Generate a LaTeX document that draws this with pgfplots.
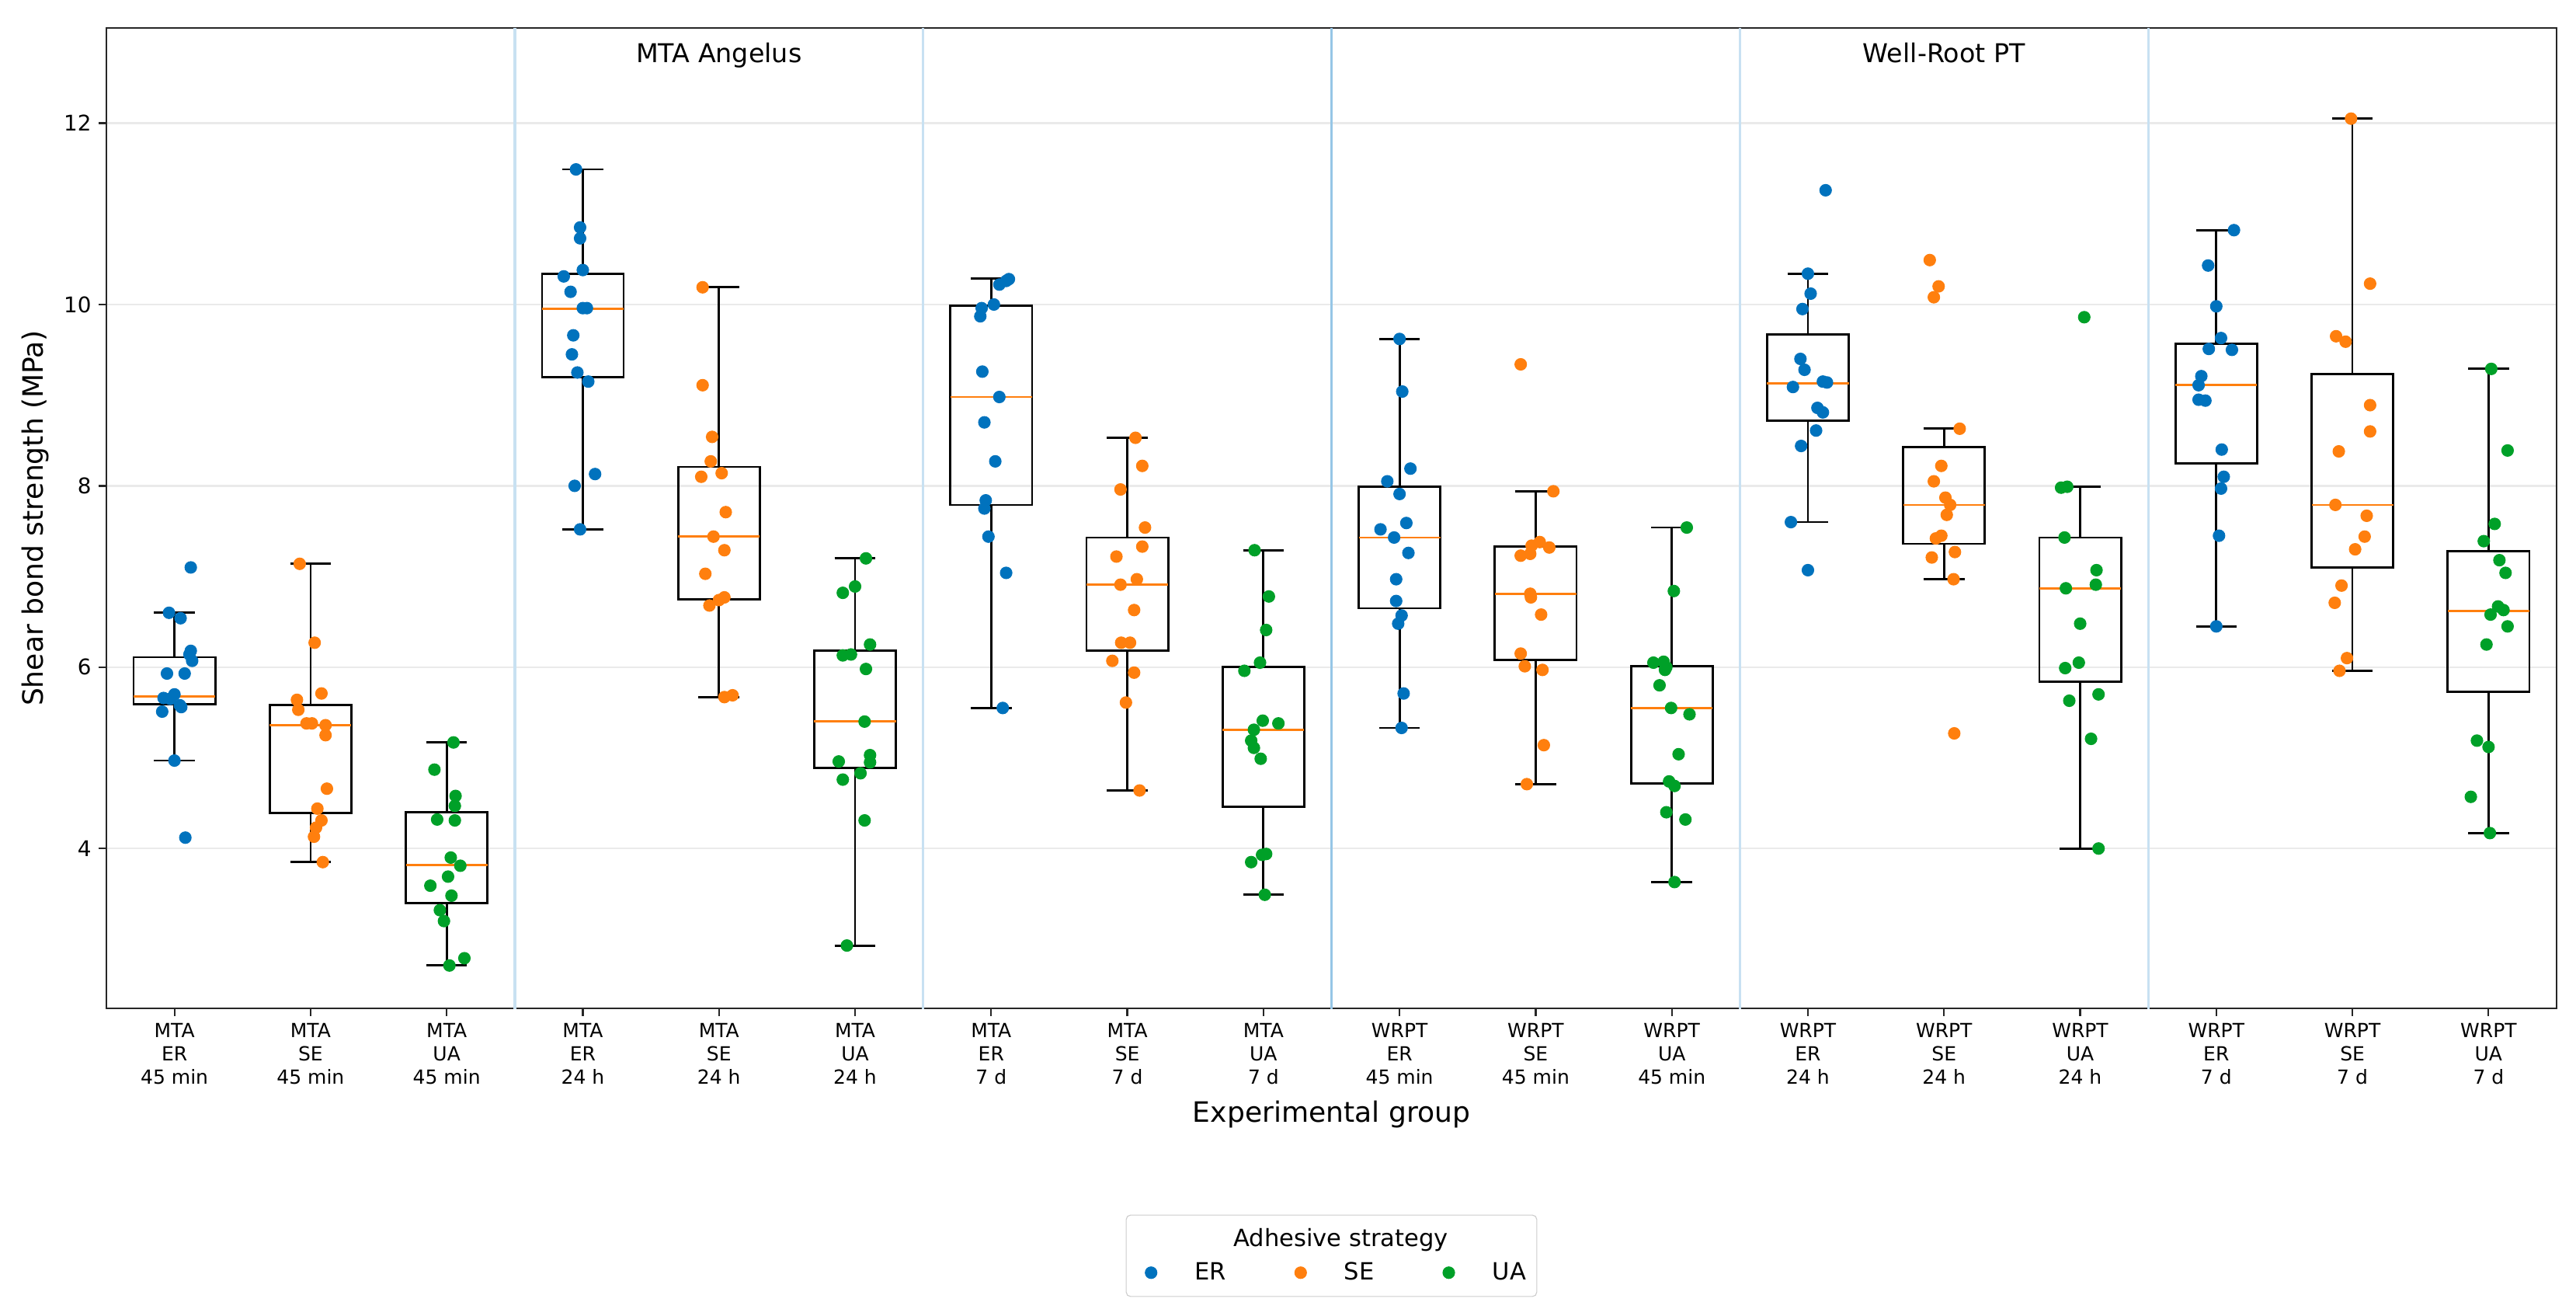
\documentclass[border=0pt]{standalone}
\usepackage{fontspec}
\setmainfont{DejaVu Sans}
\usepackage{pgfplots}
\pgfplotsset{compat=1.18}
\usepgfplotslibrary{statistics}
\definecolor{cER}{RGB}{0,114,189}
\definecolor{cSE}{RGB}{255,127,14}
\definecolor{cUA}{RGB}{0,160,40}
\definecolor{sepc}{RGB}{200,225,242}
\definecolor{sepd}{RGB}{150,198,230}
\definecolor{gridc}{RGB}{234,234,234}
\pgfplotsset{
  bx/.style n args={6}{boxplot prepared={draw position=#1, lower whisker=#2,
      lower quartile=#3, median=#4, upper quartile=#5, upper whisker=#6,
      box extend=0.6, whisker extend=0.3, draw direction=y},
    draw=black, line width=1pt, forget plot},
  pts/.style={only marks, mark=*, mark size=2.7pt, color=#1, mark options={draw=#1, fill=#1}, forget plot},
}
\begin{document}
\begin{tikzpicture}
\useasboundingbox (0,0) rectangle (1194.12pt,606.24pt);
\begin{axis}[
  at={(49.32pt,138.96pt)}, anchor=south west,
  scale only axis, width=1135.8pt, height=454.32pt,
  xmin=-0.5, xmax=17.5, ymin=2.237, ymax=13.05,
  xtick={0,...,17},
  xticklabels={{MTA\\ER\\45 min},{MTA\\SE\\45 min},{MTA\\UA\\45 min},
    {MTA\\ER\\24 h},{MTA\\SE\\24 h},{MTA\\UA\\24 h},
    {MTA\\ER\\7 d},{MTA\\SE\\7 d},{MTA\\UA\\7 d},
    {WRPT\\ER\\45 min},{WRPT\\SE\\45 min},{WRPT\\UA\\45 min},
    {WRPT\\ER\\24 h},{WRPT\\SE\\24 h},{WRPT\\UA\\24 h},
    {WRPT\\ER\\7 d},{WRPT\\SE\\7 d},{WRPT\\UA\\7 d}},
  ytick={4,6,8,10,12},
  ymajorgrids, grid style={gridc, line width=0.8pt},
  tick align=outside, major tick length=3.5pt,
  xtick pos=bottom, ytick pos=left,
  axis line style={line width=0.8pt, black!85},
  tick style={black!85, line width=0.8pt},
  xticklabel style={font=\fontsize{9}{10.8}\selectfont, align=center},
  yticklabel style={font=\fontsize{10}{12}\selectfont},
  /pgf/number format/assume math mode=true,
  xlabel={Experimental group}, ylabel={Shear bond strength (MPa)},
  label style={font=\fontsize{13}{15.6}\selectfont},
  xlabel style={at={(axis description cs:0.5,0)}, anchor=base, yshift=-52.9pt},
  ylabel style={at={(axis description cs:0,0.5)}, anchor=base, yshift=29.2pt},
  boxplot/every median/.style={draw=cSE, line width=1pt},
  legend columns=3,
  legend style={at={(0.5,0)}, anchor=north, yshift=-95.6pt, draw=black!20,
    rounded corners=2pt, font=\fontsize{11}{13.2}\selectfont,
    inner ysep=4.2pt, /tikz/row sep=1.8pt,
    /tikz/every odd column/.append style={column sep=15.5pt},
    /tikz/every even column/.append style={column sep=24pt}},
]
% group separators
\addplot[sepc, line width=1.2pt, forget plot] coordinates {(2.5,2) (2.5,14)};
\addplot[sepc, line width=1.2pt, forget plot] coordinates {(5.5,2) (5.5,14)};
\addplot[sepd, line width=1.2pt, forget plot] coordinates {(8.5,2) (8.5,14)};
\addplot[sepc, line width=1.2pt, forget plot] coordinates {(11.5,2) (11.5,14)};
\addplot[sepc, line width=1.2pt, forget plot] coordinates {(14.5,2) (14.5,14)};
% boxes: position, lower whisker, Q1, median, Q3, upper whisker
\addplot[bx={0}{4.97}{5.59}{5.68}{6.11}{6.60}] coordinates {};
\addplot[bx={1}{3.85}{4.39}{5.36}{5.58}{7.14}] coordinates {};
\addplot[bx={2}{2.71}{3.40}{3.82}{4.40}{5.17}] coordinates {};
\addplot[bx={3}{7.52}{9.20}{9.95}{10.34}{11.49}] coordinates {};
\addplot[bx={4}{5.67}{6.75}{7.44}{8.21}{10.19}] coordinates {};
\addplot[bx={5}{2.93}{4.89}{5.40}{6.18}{7.20}] coordinates {};
\addplot[bx={6}{5.55}{7.79}{8.98}{9.99}{10.29}] coordinates {};
\addplot[bx={7}{4.64}{6.18}{6.91}{7.43}{8.53}] coordinates {};
\addplot[bx={8}{3.49}{4.46}{5.31}{6.00}{7.29}] coordinates {};
\addplot[bx={9}{5.33}{6.65}{7.43}{7.99}{9.62}] coordinates {};
\addplot[bx={10}{4.71}{6.08}{6.81}{7.33}{7.94}] coordinates {};
\addplot[bx={11}{3.63}{4.72}{5.55}{6.01}{7.54}] coordinates {};
\addplot[bx={12}{7.60}{8.72}{9.13}{9.67}{10.34}] coordinates {};
\addplot[bx={13}{6.97}{7.36}{7.79}{8.43}{8.63}] coordinates {};
\addplot[bx={14}{4.00}{5.84}{6.87}{7.43}{7.99}] coordinates {};
\addplot[bx={15}{6.45}{8.25}{9.11}{9.57}{10.82}] coordinates {};
\addplot[bx={16}{5.96}{7.10}{7.79}{9.23}{12.05}] coordinates {};
\addplot[bx={17}{4.17}{5.73}{6.62}{7.28}{9.29}] coordinates {};
% ER points
\addplot[pts=cER] coordinates {
(0.12,7.10) (-0.04,6.60) (0.045,6.54) (0.12,6.18) (0.11,6.14) (0.13,6.07) (-0.055,5.93) (0.075,5.93) (0,5.70) (-0.08,5.66) (-0.03,5.65) (0.04,5.58) (0.05,5.56) (-0.09,5.51) (0,4.97) (0.08,4.12)
(2.95,11.49) (2.98,10.85) (2.98,10.73) (3.00,10.38) (2.86,10.31) (2.91,10.14) (3.00,9.96) (3.03,9.96) (2.93,9.66) (2.92,9.45) (2.96,9.25) (3.04,9.15) (3.09,8.13) (2.94,8.00) (2.98,7.52)
(6.13,10.28) (6.11,10.26) (6.06,10.22) (6.02,10.00) (5.93,9.96) (5.92,9.87) (5.935,9.26) (6.06,8.98) (5.95,8.70) (6.03,8.27) (5.96,7.84) (5.95,7.75) (5.98,7.44) (6.11,7.04) (6.085,5.55)
(9.00,9.62) (9.02,9.04) (9.08,8.19) (8.91,8.05) (9.00,7.91) (8.86,7.52) (9.05,7.59) (8.96,7.43) (9.065,7.26) (8.975,6.97) (8.975,6.73) (9.015,6.57) (8.99,6.48) (9.03,5.71) (9.015,5.33)
(12.13,11.26) (12.00,10.34) (12.02,10.12) (11.96,9.95) (11.945,9.40) (11.975,9.28) (11.89,9.09) (12.11,9.15) (12.14,9.14) (12.07,8.86) (12.11,8.81) (12.06,8.61) (11.95,8.44) (11.875,7.60) (12.00,7.07)
(15.13,10.82) (14.94,10.43) (15.00,9.98) (15.035,9.63) (14.945,9.51) (15.115,9.50) (14.89,9.21) (14.87,9.11) (14.87,8.95) (14.92,8.94) (15.04,8.40) (15.055,8.10) (15.035,7.97) (15.02,7.45) (15.00,6.45)
};
% SE points
\addplot[pts=cSE] coordinates {
(0.92,7.14) (1.03,6.27) (0.90,5.64) (0.91,5.53) (1.08,5.71) (0.97,5.38) (1.01,5.38) (1.11,5.36) (1.11,5.25) (1.12,4.66) (1.05,4.44) (1.08,4.31) (1.04,4.23) (1.025,4.13) (1.09,3.85)
(3.88,10.19) (3.88,9.11) (3.95,8.54) (3.94,8.27) (3.87,8.10) (4.02,8.14) (4.05,7.71) (3.96,7.44) (4.04,7.29) (3.90,7.03) (4.04,6.77) (4.00,6.74) (3.93,6.68) (4.04,5.67) (4.10,5.69)
(7.06,8.53) (7.11,8.22) (6.95,7.96) (7.13,7.54) (7.11,7.33) (6.92,7.22) (6.95,6.91) (7.07,6.97) (7.05,6.63) (6.955,6.27) (7.02,6.27) (6.89,6.07) (7.05,5.94) (6.99,5.61) (7.09,4.64)
(9.89,9.34) (10.13,7.94) (10.03,7.38) (9.97,7.34) (10.10,7.32) (9.89,7.23) (9.96,7.25) (9.96,6.81) (9.965,6.77) (10.04,6.58) (9.89,6.15) (9.92,6.01) (10.05,5.97) (10.06,5.14) (9.935,4.71)
(12.895,10.49) (12.96,10.20) (12.925,10.08) (13.115,8.63) (12.98,8.22) (12.925,8.05) (13.01,7.87) (13.045,7.79) (13.02,7.68) (12.98,7.45) (12.94,7.42) (13.08,7.27) (12.91,7.21) (13.07,6.97) (13.075,5.27)
(15.99,12.05) (16.13,10.23) (15.88,9.65) (15.95,9.59) (16.13,8.89) (16.13,8.60) (15.90,8.38) (15.875,7.79) (16.105,7.67) (16.09,7.44) (16.02,7.30) (15.92,6.90) (15.87,6.71) (15.96,6.10) (15.905,5.96)
};
% UA points
\addplot[pts=cUA] coordinates {
(2.05,5.17) (1.91,4.87) (2.065,4.58) (2.06,4.47) (1.93,4.32) (2.06,4.31) (2.03,3.90) (2.10,3.81) (1.88,3.59) (2.01,3.69) (2.035,3.48) (1.95,3.32) (1.98,3.20) (2.13,2.79) (2.02,2.71)
(5.08,7.20) (4.91,6.82) (5.00,6.89) (5.11,6.25) (4.91,6.13) (4.97,6.14) (5.08,5.98) (5.07,5.40) (4.88,4.96) (5.11,5.03) (5.11,4.95) (5.04,4.83) (4.91,4.76) (5.07,4.31) (4.94,2.93)
(7.935,7.29) (8.04,6.78) (8.02,6.41) (7.975,6.05) (7.86,5.96) (7.995,5.41) (8.11,5.38) (7.93,5.31) (7.91,5.19) (7.93,5.11) (7.98,4.99) (8.02,3.94) (7.99,3.93) (7.91,3.85) (8.01,3.49)
(11.11,7.54) (11.015,6.84) (10.865,6.05) (10.94,6.06) (10.95,5.97) (10.96,6.00) (10.91,5.80) (10.995,5.55) (11.13,5.48) (11.05,5.04) (10.98,4.74) (11.02,4.69) (10.96,4.40) (11.10,4.32) (11.02,3.63)
(14.03,9.86) (13.86,7.98) (13.905,7.99) (13.885,7.43) (14.12,7.07) (14.115,6.91) (13.895,6.87) (14.00,6.48) (13.89,5.99) (13.99,6.05) (14.135,5.70) (13.92,5.63) (14.08,5.21) (14.135,4.00)
(17.02,9.29) (17.14,8.39) (17.045,7.58) (16.965,7.39) (17.08,7.18) (17.125,7.04) (17.07,6.67) (17.11,6.63) (17.015,6.58) (17.14,6.45) (16.985,6.25) (16.915,5.19) (17.00,5.12) (16.87,4.57) (17.01,4.17)
};
% legend
\addlegendimage{empty legend}\addlegendentry{}
\addlegendimage{empty legend}\addlegendentry{\makebox[0pt][l]{\hspace*{-58.3pt}Adhesive strategy}}
\addlegendimage{empty legend}\addlegendentry{}
\addlegendimage{only marks, mark=*, mark size=2.7pt, color=cER}\addlegendentry{ER}
\addlegendimage{only marks, mark=*, mark size=2.7pt, color=cSE}\addlegendentry{SE}
\addlegendimage{only marks, mark=*, mark size=2.7pt, color=cUA}\addlegendentry{UA}
% panel titles
\node[font=\fontsize{12}{14.4}\selectfont, anchor=base] at (axis cs:4,12.67) {MTA Angelus};
\node[font=\fontsize{12}{14.4}\selectfont, anchor=base] at (axis cs:13,12.67) {Well-Root PT};
\end{axis}
\end{tikzpicture}
\end{document}
